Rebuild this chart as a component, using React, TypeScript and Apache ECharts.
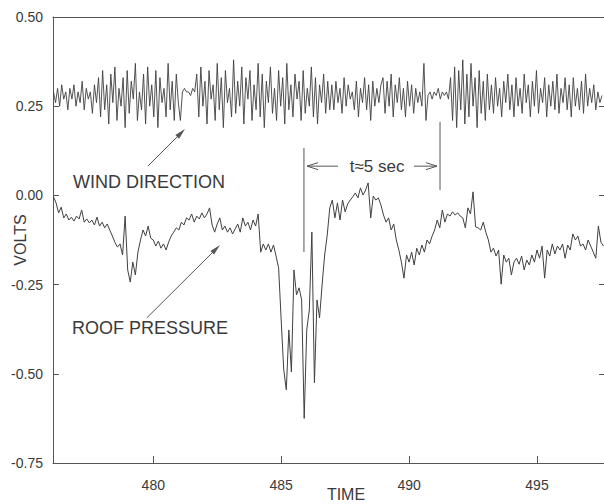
import React, { useEffect, useRef } from "react";
import * as echarts from "echarts";

// ---- axes ----
const X_MIN = 476.08;
const X_MAX = 497.62;
const xTickValues = [480, 485, 490, 495];
const Y_MIN = -0.75;
const Y_MAX = 0.5;
const Y_INTERVAL = 0.25;

// ---- sampling of the two traces ----
const T_START = 476.1;
const PRESSURE_STEP = 0.1; // s
const WIND_STEP = 0.08; // s

// ROOF PRESSURE (volts), one value every 0.1 s from t = 476.1
const roofPressure = [
  -0.004, -0.021, -0.049, -0.033, -0.063, -0.052, -0.069, -0.061, -0.072, -0.058,
  -0.066, -0.041, -0.075, -0.066, -0.077, -0.069, -0.083, -0.061, -0.086, -0.075,
  -0.091, -0.080, -0.097, -0.114, -0.131, -0.145, -0.136, -0.167, -0.058, -0.209,
  -0.243, -0.187, -0.223, -0.159, -0.125, -0.097, -0.114, -0.086, -0.120, -0.125,
  -0.142, -0.128, -0.148, -0.136, -0.153, -0.131, -0.114, -0.103, -0.091, -0.097,
  -0.075, -0.083, -0.063, -0.069, -0.052, -0.075, -0.058, -0.066, -0.049, -0.063,
  -0.052, -0.035, -0.083, -0.103, -0.080, -0.063, -0.097, -0.086, -0.103, -0.091,
  -0.108, -0.094, -0.080, -0.103, -0.063, -0.086, -0.075, -0.097, -0.069, -0.086,
  -0.052, -0.159, -0.136, -0.153, -0.136, -0.159, -0.139, -0.170, -0.203, -0.349,
  -0.489, -0.545, -0.377, -0.495, -0.209, -0.279, -0.259, -0.293, -0.625, -0.377,
  -0.321, -0.103, -0.525, -0.293, -0.343, -0.251, -0.167, -0.111, -0.035, -0.013,
  -0.063, -0.021, -0.069, -0.013, -0.046, -0.024, -0.013, -0.004, 0.007, -0.007,
  0.021, 0.001, 0.015, 0.035, -0.063, -0.002, -0.013, -0.007, -0.027, -0.055,
  -0.075, -0.063, -0.097, -0.080, -0.125, -0.153, -0.187, -0.232, -0.167, -0.187,
  -0.159, -0.195, -0.148, -0.167, -0.139, -0.159, -0.125, -0.136, -0.114, -0.097,
  -0.069, -0.091, -0.041, -0.075, -0.052, -0.058, -0.046, -0.055, -0.049, -0.058,
  -0.063, -0.091, -0.035, -0.052, 0.010, -0.088, -0.091, -0.097, -0.075, -0.103,
  -0.125, -0.159, -0.148, -0.170, -0.153, -0.249, -0.167, -0.187, -0.176, -0.223,
  -0.187, -0.176, -0.193, -0.170, -0.209, -0.181, -0.195, -0.167, -0.187, -0.153,
  -0.176, -0.142, -0.232, -0.153, -0.170, -0.136, -0.164, -0.142, -0.153, -0.136,
  -0.176, -0.139, -0.153, -0.108, -0.125, -0.114, -0.142, -0.136, -0.153, -0.125,
  -0.142, -0.159, -0.176, -0.086, -0.131, -0.142,
];

// WIND DIRECTION (volts), one value every 0.08 s from t = 476.1
const windDirection = [
  0.29, 0.26, 0.30, 0.25, 0.31, 0.27, 0.29, 0.24, 0.30, 0.27, 0.31, 0.25, 0.29, 0.26, 0.32, 0.24, 0.30, 0.27, 0.29, 0.23, 0.31, 0.26,
  0.33, 0.22, 0.35, 0.24, 0.31, 0.20, 0.34, 0.26, 0.36, 0.21, 0.30, 0.25, 0.33, 0.19, 0.35, 0.23, 0.32, 0.27, 0.37, 0.21, 0.29, 0.24,
  0.34, 0.20, 0.36, 0.25, 0.31, 0.22, 0.35, 0.19, 0.33, 0.26, 0.30, 0.22, 0.37, 0.24, 0.32, 0.21, 0.34, 0.26, 0.21,
  0.29, 0.30, 0.29, 0.29, 0.28, 0.30, 0.29,
  0.34, 0.22, 0.36, 0.25, 0.32, 0.20, 0.35, 0.27, 0.31, 0.21,
  0.37, 0.24, 0.33, 0.19, 0.35, 0.26, 0.30, 0.22, 0.38, 0.23,
  0.32, 0.25, 0.36, 0.20, 0.33, 0.27, 0.35, 0.21, 0.31, 0.24,
  0.37, 0.22, 0.34, 0.19, 0.32, 0.26, 0.36, 0.23, 0.30, 0.21,
  0.35, 0.25, 0.33, 0.20, 0.37, 0.24, 0.31, 0.22, 0.34, 0.27,
  0.32, 0.21, 0.35, 0.23, 0.30, 0.25, 0.36, 0.22, 0.33, 0.20,
  0.31, 0.26, 0.34, 0.23, 0.32, 0.24,
  0.31, 0.24, 0.32, 0.26, 0.30, 0.23, 0.33, 0.25, 0.31, 0.27, 0.29, 0.24, 0.32, 0.22, 0.30, 0.26, 0.33, 0.24, 0.31, 0.21, 0.32, 0.25, 0.30, 0.26, 0.31,
  0.33, 0.23, 0.32, 0.25, 0.34, 0.22, 0.31, 0.26, 0.33, 0.24, 0.30, 0.22, 0.32, 0.25, 0.31, 0.23, 0.30, 0.26, 0.29, 0.25, 0.37, 0.21,
  0.28, 0.29, 0.27, 0.29, 0.28, 0.30, 0.27, 0.29, 0.28, 0.29, 0.27,
  0.33, 0.21, 0.36, 0.19, 0.35, 0.24, 0.38, 0.20, 0.34, 0.22, 0.37, 0.25, 0.33, 0.19, 0.35, 0.23, 0.32, 0.21, 0.34, 0.24,
  0.31, 0.23, 0.33, 0.25, 0.30, 0.22, 0.32, 0.26, 0.34, 0.24,
  0.31, 0.22, 0.33, 0.25, 0.30, 0.23, 0.34, 0.26, 0.31, 0.22,
  0.32, 0.25, 0.35, 0.23, 0.30, 0.26, 0.33, 0.22, 0.31, 0.25,
  0.32, 0.24, 0.34, 0.23, 0.30, 0.26, 0.33, 0.24, 0.31, 0.22,
  0.33, 0.25, 0.30, 0.24, 0.32, 0.23, 0.34, 0.25, 0.30, 0.26,
  0.31, 0.24, 0.29, 0.26, 0.28,
];

// ---- annotations (data coordinates) ----
const markerLines = [
  { t: 485.89, from: 0.133, to: -0.159 },
  { t: 491.21, from: 0.206, to: 0.015 },
];
const spanLabel = "t≈5 sec";
const spanLabelAt = { t: 488.75, v: 0.082 };
const spanArrows = [
  { fromT: 487.22, toT: 486.01, v: 0.082 },
  { fromT: 490.19, toT: 491.09, v: 0.082 },
];
const traceLabels = [
  { text: "WIND DIRECTION", t: 476.86, v: 0.038, arrowFrom: [479.79, 0.082], arrowTo: [481.24, 0.186] },
  { text: "ROOF PRESSURE", t: 476.82, v: -0.372, arrowFrom: [479.75, -0.343], arrowTo: [482.61, -0.139] },
];
const yAxisTitle = "VOLTS";
const xAxisTitle = "TIME";

const FONT = "'Liberation Sans', Arial, Helvetica, sans-serif";
const TEXT_COLOR = "#3a3a3a";
const LINE_COLOR = "#555";
const TRACE_COLOR = "#404040";

export default function App() {
  const ref = useRef<HTMLDivElement>(null);

  useEffect(() => {
    if (!ref.current) return;
    const chart = echarts.init(ref.current, undefined, { renderer: "svg" });

    const pressureData = roofPressure.map((v, i) => [T_START + i * PRESSURE_STEP, v]);
    const windData = windDirection.map((v, i) => [T_START + i * WIND_STEP, v]);

    const axisText = { fontSize: 14, color: TEXT_COLOR, fontFamily: FONT };

    chart.setOption({
      animation: false,
      backgroundColor: "#ffffff",
      grid: { left: 53, right: 0, top: 17, bottom: 41, containLabel: false, outerBoundsMode: "none" },
      xAxis: [
        {
          type: "value",
          position: "bottom",
          min: X_MIN,
          max: X_MAX,
          axisLine: { show: true, onZero: false, lineStyle: { color: LINE_COLOR, width: 1 } },
          axisTick: { show: true, inside: true, length: 7, customValues: xTickValues, lineStyle: { color: LINE_COLOR } },
          axisLabel: { ...axisText, margin: 15, customValues: xTickValues },
          splitLine: { show: false },
        },
        {
          type: "value",
          position: "top",
          min: X_MIN,
          max: X_MAX,
          axisLine: { show: true, onZero: false, lineStyle: { color: LINE_COLOR, width: 1 } },
          axisTick: { show: false },
          axisLabel: { show: false },
          splitLine: { show: false },
        },
      ],
      yAxis: [
        {
          type: "value",
          position: "left",
          min: Y_MIN,
          max: Y_MAX,
          interval: Y_INTERVAL,
          name: yAxisTitle,
          nameLocation: "middle",
          nameRotate: 90,
          nameGap: 25,
          nameMoveOverlap: false,
          nameTextStyle: { fontSize: 16, color: TEXT_COLOR, fontFamily: FONT },
          axisLine: { show: true, onZero: false, lineStyle: { color: LINE_COLOR, width: 1 } },
          axisTick: { show: true, inside: true, length: 6, lineStyle: { color: LINE_COLOR } },
          axisLabel: { ...axisText, margin: 10, formatter: (v: number) => v.toFixed(2) },
          splitLine: { show: false },
        },
        {
          type: "value",
          position: "right",
          min: Y_MIN,
          max: Y_MAX,
          interval: Y_INTERVAL,
          axisLine: { show: false },
          axisTick: { show: true, inside: true, length: 5, lineStyle: { color: LINE_COLOR } },
          axisLabel: { show: false },
          splitLine: { show: false },
        },
      ],
      series: [
        {
          name: "WIND DIRECTION",
          type: "line",
          data: windData,
          showSymbol: false,
          lineStyle: { color: TRACE_COLOR, width: 0.9 },
        },
        {
          name: "ROOF PRESSURE",
          type: "line",
          data: pressureData,
          showSymbol: false,
          lineStyle: { color: TRACE_COLOR, width: 1 },
        },
      ],
    });

    const px = (t: number, v: number) =>
      chart.convertToPixel({ xAxisIndex: 0, yAxisIndex: 0 }, [t, v]) as number[];

    const graphics: any[] = [];

    // vertical marker lines
    markerLines.forEach((m) => {
      const a = px(m.t, m.from);
      const b = px(m.t, m.to);
      graphics.push({
        type: "line",
        shape: { x1: a[0], y1: a[1], x2: b[0], y2: b[1] },
        style: { stroke: LINE_COLOR, lineWidth: 1 },
      });
    });

    // span arrows with open heads
    spanArrows.forEach((s) => {
      const a = px(s.fromT, s.v);
      const b = px(s.toT, s.v);
      const dir = b[0] > a[0] ? 1 : -1;
      graphics.push({
        type: "line",
        shape: { x1: a[0], y1: a[1], x2: b[0], y2: b[1] },
        style: { stroke: LINE_COLOR, lineWidth: 1 },
      });
      graphics.push({
        type: "polyline",
        shape: {
          points: [
            [b[0] - dir * 11, b[1] - 3.5],
            [b[0], b[1]],
            [b[0] - dir * 11, b[1] + 3.5],
          ],
        },
        style: { stroke: LINE_COLOR, lineWidth: 1, fill: null },
      });
    });

    const sl = px(spanLabelAt.t, spanLabelAt.v);
    graphics.push({
      type: "text",
      x: sl[0],
      y: sl[1],
      style: {
        text: spanLabel,
        fontSize: 17,
        fontFamily: FONT,
        fill: TEXT_COLOR,
        align: "center",
        verticalAlign: "middle",
      },
    });

    // trace labels with arrows
    traceLabels.forEach((l) => {
      const p = px(l.t, l.v);
      graphics.push({
        type: "text",
        x: p[0],
        y: p[1],
        style: {
          text: l.text,
          fontSize: 18,
          fontFamily: FONT,
          fill: TEXT_COLOR,
          align: "left",
          verticalAlign: "middle",
        },
      });
      const a = px(l.arrowFrom[0], l.arrowFrom[1]);
      const b = px(l.arrowTo[0], l.arrowTo[1]);
      const dx = b[0] - a[0];
      const dy = b[1] - a[1];
      const len = Math.sqrt(dx * dx + dy * dy);
      const ux = dx / len;
      const uy = dy / len;
      const hl = 11;
      const hw = 2.6;
      const bx = b[0] - ux * hl;
      const by = b[1] - uy * hl;
      graphics.push({
        type: "line",
        shape: { x1: a[0], y1: a[1], x2: bx, y2: by },
        style: { stroke: LINE_COLOR, lineWidth: 1 },
      });
      graphics.push({
        type: "polygon",
        shape: {
          points: [
            [b[0], b[1]],
            [bx - uy * hw, by + ux * hw],
            [bx + uy * hw, by - ux * hw],
          ],
        },
        style: { fill: LINE_COLOR },
      });
    });

    // x axis title (offset to the right of centre, as in the reference)
    graphics.push({
      type: "text",
      x: 346,
      y: 486,
      style: {
        text: xAxisTitle,
        fontSize: 16,
        fontFamily: FONT,
        fill: TEXT_COLOR,
        align: "center",
        verticalAlign: "top",
      },
    });

    chart.setOption({ graphic: graphics });

    return () => {
      chart.dispose();
    };
  }, []);

  return (
    <div
      ref={ref}
      style={{ position: "fixed", left: 0, top: 0, width: 604, height: 504 }}
    />
  );
}
